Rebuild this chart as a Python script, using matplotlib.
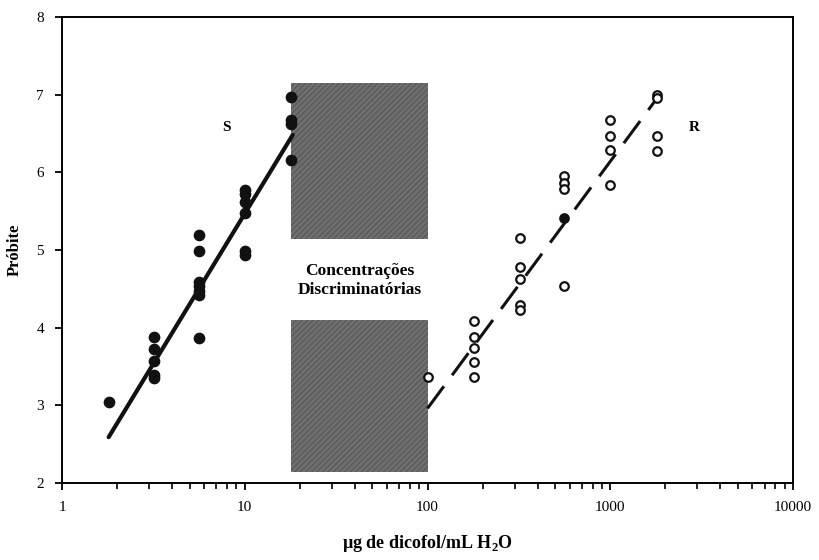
import numpy as np
import matplotlib.pyplot as plt
from matplotlib.ticker import LogLocator, FixedLocator, NullFormatter

plt.rcParams['font.family'] = ['Liberation Serif', 'DejaVu Serif']
plt.rcParams['mathtext.fontset'] = 'custom'
plt.rcParams['mathtext.rm'] = 'Liberation Serif'
plt.rcParams['mathtext.bf'] = 'Liberation Serif:bold'

# susceptible population (filled)
s_dose = [1.8, 3.2, 3.2, 3.2, 3.2, 3.2,
          5.6, 5.6, 5.6, 5.6, 5.6, 5.6, 5.6,
          10, 10, 10, 10, 10, 10,
          18, 18, 18, 18]
s_probit = [3.04, 3.88, 3.72, 3.57, 3.39, 3.35,
            5.19, 4.99, 4.59, 4.53, 4.47, 4.42, 3.87,
            5.77, 5.72, 5.62, 5.48, 4.98, 4.93,
            6.97, 6.67, 6.62, 6.16]

# resistant population (open)
r_dose = [100, 180, 180, 180, 180, 180,
          320, 320, 320, 320, 320,
          560, 560, 560, 560,
          1000, 1000, 1000, 1000,
          1800, 1800, 1800, 1800]
r_probit = [3.36, 4.09, 3.88, 3.74, 3.56, 3.37,
            5.15, 4.78, 4.62, 4.29, 4.23,
            5.95, 5.86, 5.79, 4.53,
            6.67, 6.46, 6.28, 5.84,
            6.99, 6.95, 6.46, 6.27]
r_mid_dose = [560]
r_mid_probit = [5.41]

# fitted lines
s_line_dose = [1.8, 18.3]
s_line_probit = [2.59, 6.48]
r_line_dose = [100, 1800]
r_line_probit = [2.96, 6.95]

# discriminating concentration band
band_dose = [18, 100]
band_upper = [5.14, 7.15]
band_lower = [2.14, 4.1]

fig = plt.figure(figsize=(8.2, 5.6), dpi=100)
ax = fig.add_axes([0.0756, 0.1375, 0.8915, 0.8325])

for lo, hi in (band_upper, band_lower):
    ax.fill_between(band_dose, lo, hi, facecolor='#707070', edgecolor='#595959',
                    hatch='//////', linewidth=0, zorder=1)

ax.plot(s_line_dose, s_line_probit, color='#111111', lw=3, solid_capstyle='round', zorder=3)
ax.plot(r_line_dose, r_line_probit, color='#111111', lw=2.2,
        linestyle=(0, (9, 4.5)), zorder=3)

ax.scatter(s_dose, s_probit, s=55, color='#111111', zorder=4)
ax.scatter(r_dose, r_probit, s=38, facecolor='white', edgecolor='#111111',
           linewidth=1.6, zorder=4)
ax.scatter(r_mid_dose, r_mid_probit, s=45, color='#111111', zorder=4)

ax.text(7.9, 6.58, 'S', fontsize=11, fontweight='bold', ha='center', va='center')
ax.text(2900, 6.58, 'R', fontsize=11, fontweight='bold', ha='center', va='center')
ax.text(42.5, 4.61, 'Concentrações\nDiscriminatórias', fontsize=12.5,
        fontweight='bold', ha='center', va='center', linespacing=1.25, zorder=5)

ax.set_xscale('log')
ax.set_xlim(1, 10000)
ax.set_ylim(2, 8)
ax.xaxis.set_major_locator(FixedLocator([1, 10, 100, 1000, 10000]))
ax.set_xticklabels(['1', '10', '100', '1000', '10000'])
ax.xaxis.set_minor_locator(LogLocator(base=10, subs=np.arange(2, 10)))
ax.xaxis.set_minor_formatter(NullFormatter())
ax.set_yticks([2, 3, 4, 5, 6, 7, 8])

ax.tick_params(axis='both', which='major', direction='out', length=5, width=1.3,
               labelsize=11, pad=8)
ax.tick_params(axis='x', which='minor', direction='out', length=4, width=1.2)
for sp in ax.spines.values():
    sp.set_linewidth(1.4)

ax.set_ylabel('Próbite', fontsize=12, fontweight='bold', labelpad=10)
ax.set_xlabel('µg de dicofol/mL H$_\\mathbf{2}$O', fontsize=13, fontweight='bold',
              labelpad=14)

fig.savefig('out.png', dpi=100)
